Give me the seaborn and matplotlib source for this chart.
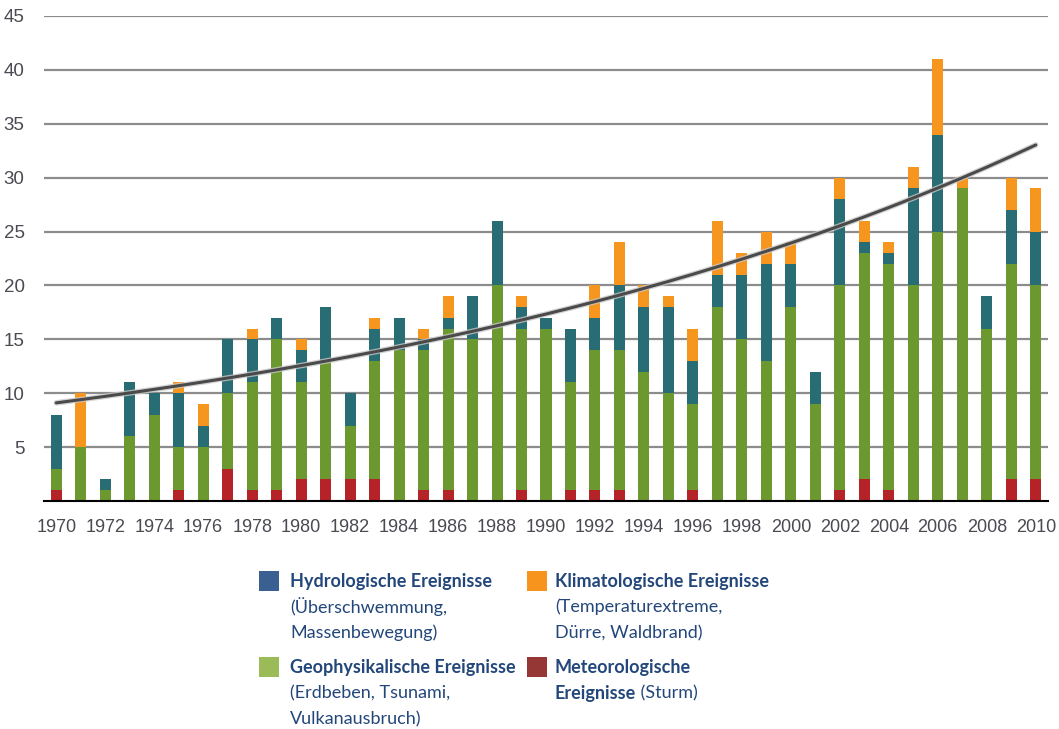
import numpy as np
import pandas as pd
import seaborn as sns
import matplotlib.pyplot as plt
from matplotlib.patches import Rectangle

years = list(range(1970, 2011))
meteo = [1, 0, 0, 0, 0, 1, 0, 3, 1, 1, 2, 2, 2, 2, 0, 1, 1, 0, 0, 1, 0,
         1, 1, 1, 0, 0, 1, 0, 0, 0, 0, 0, 1, 2, 1, 0, 0, 0, 0, 2, 2]
geo = [2, 5, 1, 6, 8, 4, 5, 7, 10, 14, 9, 11, 5, 11, 14, 13, 15, 15, 20, 15, 16,
       10, 13, 13, 12, 10, 8, 18, 15, 13, 18, 9, 19, 21, 21, 20, 25, 29, 16, 20, 18]
hydro = [5, 0, 1, 5, 2, 5, 2, 5, 4, 2, 3, 5, 3, 3, 3, 1, 1, 4, 6, 2, 1,
         5, 3, 6, 6, 8, 4, 3, 6, 9, 4, 3, 8, 1, 1, 9, 9, 0, 3, 5, 5]
klima = [0, 5, 0, 0, 0, 1, 2, 0, 1, 0, 1, 0, 0, 1, 0, 1, 2, 0, 0, 1, 0,
         0, 3, 4, 2, 1, 3, 5, 2, 3, 2, 0, 2, 2, 1, 2, 7, 1, 0, 3, 4]

df = pd.DataFrame({"year": [str(y) for y in years], "meteo": meteo, "geo": geo,
                   "hydro": hydro, "klima": klima})
df["c_geo"] = df["meteo"] + df["geo"]
df["c_hydro"] = df["c_geo"] + df["hydro"]
df["c_klima"] = df["c_hydro"] + df["klima"]

bar_colors = {"c_klima": "#F7961E", "c_hydro": "#286C74", "c_geo": "#6B982F", "meteo": "#B52228"}

sns.set_style("white")
plt.rcParams["font.family"] = ["Liberation Sans", "DejaVu Sans"]

fig = plt.figure(figsize=(10.59, 7.29), dpi=100)
ax = fig.add_axes([44 / 1059, 228 / 729, (1048 - 44) / 1059, (501 - 16) / 729])

# stacked bars: draw cumulative totals from the top layer down
for col, colr in bar_colors.items():
    sns.barplot(data=df, x="year", y=col, color=colr, width=0.45, saturation=1,
                order=df["year"], ax=ax, zorder=3, linewidth=0, edgecolor="none")

# exponential trend line (least squares on log of totals)
t = np.arange(len(years))
k, c = np.polyfit(t, np.log(df["c_klima"]), 1)
trend = np.exp(c + k * t)
ax.plot(t, trend, color="#C8C8C8", lw=4, zorder=4, alpha=0.8)
ax.plot(t, trend, color="#4A4A4A", lw=2.2, zorder=5)

ax.set_xlim(-0.5, len(years) - 0.5)
ax.set_ylim(0, 45)
ax.set_yticks(range(5, 50, 5))
ax.set_yticklabels([str(v) for v in range(5, 50, 5)], fontsize=13.5, color="#4A4A52")
ax.set_xticks(range(0, len(years), 2))
ax.set_xticklabels(years[::2], fontsize=13, color="#4A4A52")
ax.set_xticks(np.arange(-0.5, len(years), 1), minor=True)
ax.tick_params(axis="x", which="major", length=0, pad=13)
ax.tick_params(axis="x", which="minor", length=5, width=1.5, color="black", direction="out")
ax.tick_params(axis="y", length=0, pad=14)
ax.set_xlabel("")
ax.set_ylabel("")
ax.yaxis.grid(True, color="#8C8C8C", lw=1.6, zorder=0)
for side in ["top", "right", "left"]:
    ax.spines[side].set_visible(False)
ax.spines["bottom"].set_color("black")
ax.spines["bottom"].set_linewidth(1.5)
ax.spines["bottom"].set_zorder(6)

# legend drawn in figure coordinates
txt_color = "#23477A"
leg_font = ["Lato", "DejaVu Sans"]
fs = 13
entries = [
    (259, 571, "#3A6091", 290, [("Hydrologische Ereignisse", None), ("(Überschwemmung,", None), ("Massenbewegung)", None)], 1),
    (527, 571, "#F7941E", 555, [("Klimatologische Ereignisse", None), ("(Temperaturextreme,", None), ("Dürre, Waldbrand)", None)], 1),
    (259, 657, "#9BBB59", 290, [("Geophysikalische Ereignisse", None), ("(Erdbeben, Tsunami,", None), ("Vulkanausbruch)", None)], 1),
    (527, 657, "#953735", 555, [("Meteorologische", None), ("Ereignisse", " (Sturm)")], 2),
]
line_gap = 26
fig.canvas.draw()
renderer = fig.canvas.get_renderer()
for px, py, pc, tx, lines, nbold in entries:
    fig.patches.append(Rectangle((px / 1059, 1 - (py + 20) / 729), 20 / 1059, 20 / 729,
                                 transform=fig.transFigure, facecolor=pc, edgecolor="none"))
    for i, (main, extra) in enumerate(lines):
        yy = 1 - (py + 10 + i * line_gap) / 729
        weight = "bold" if i < nbold else "normal"
        tobj = fig.text(tx / 1059, yy, main, fontsize=fs, fontweight=weight, color=txt_color,
                        family=leg_font, va="center", ha="left")
        if extra:
            bb = tobj.get_window_extent(renderer=renderer)
            fig.text(bb.x1 / 1059, yy, extra, fontsize=fs, color=txt_color,
                     family=leg_font, va="center", ha="left")

fig.savefig("out.png", dpi=100)
